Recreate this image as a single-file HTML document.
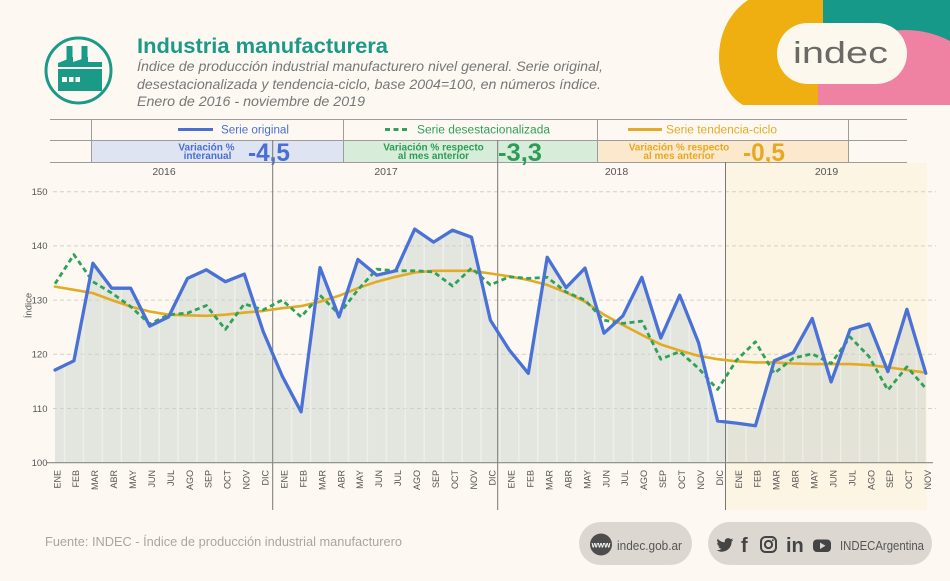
<!DOCTYPE html>
<html><head><meta charset="utf-8">
<style>
html,body{margin:0;padding:0;background:#fdf9f2;width:950px;height:581px;overflow:hidden}
svg{display:block}
text{font-family:"Liberation Sans",Arial,sans-serif}
</style></head>
<body>
<svg width="950" height="581" viewBox="0 0 950 581" xmlns="http://www.w3.org/2000/svg">
<defs>
<clipPath id="pc"><rect x="818" y="0" width="132" height="105"/></clipPath>
<pattern id="stripes" patternUnits="userSpaceOnUse" x="63.8" y="0" width="18.93" height="600">
<rect x="0" y="0" width="18.93" height="600" fill="#c9d1cc" fill-opacity="0.5"/>
<rect x="0" y="0" width="1.4" height="600" fill="#ffffff" fill-opacity="0.4"/>
</pattern>
</defs>
<rect x="0" y="0" width="950" height="581" fill="#fdf9f2"/>

<!-- Logo -->
<rect x="822" y="0" width="128" height="105" fill="#17998a"/>
<path d="M748,0 H823 V105 H743 C730,98 719,80 719,57 C719,33 730,12 748,0 Z" fill="#f0af10"/>
<circle cx="905" cy="128" r="98" fill="#ef81a2" clip-path="url(#pc)"/>
<rect x="777" y="23" width="130" height="61" rx="30.5" fill="#fdf8ee"/>
<text x="793" y="63" font-size="31" fill="#6b6966" textLength="95" lengthAdjust="spacingAndGlyphs">indec</text>

<!-- Icon -->
<circle cx="78.5" cy="70.5" r="32.5" fill="none" stroke="#1a9a87" stroke-width="3"/>
<g fill="#1a9a87">
<rect x="66.5" y="46" width="6" height="14"/>
<rect x="81.5" y="46" width="6" height="14"/>
<polygon points="58,67 58,63 73,57 73,62 88,57 88,62 102,62 102,67"/>
<rect x="58" y="69" width="44" height="22"/>
</g>
<g fill="#fdf9f2">
<rect x="62" y="77" width="5" height="5"/>
<rect x="69" y="77" width="4.5" height="5"/>
<rect x="75.5" y="77" width="4.5" height="5"/>
</g>

<!-- Title -->
<text x="137" y="53" font-size="21" font-weight="bold" fill="#1a9a87" textLength="251" lengthAdjust="spacingAndGlyphs">Industria manufacturera</text>
<g font-size="14" font-style="italic" fill="#777">
<text x="137" y="71" textLength="466" lengthAdjust="spacingAndGlyphs">Índice de producción industrial manufacturero nivel general. Serie original,</text>
<text x="137" y="89" textLength="464" lengthAdjust="spacingAndGlyphs">desestacionalizada y tendencia-ciclo, base 2004=100, en números índice.</text>
<text x="137" y="106" textLength="228" lengthAdjust="spacingAndGlyphs">Enero de 2016 - noviembre de 2019</text>
</g>

<!-- Legend table -->
<rect x="91" y="140" width="252" height="22" fill="#dee4f1"/>
<rect x="343" y="140" width="254" height="22" fill="#d8edd9"/>
<rect x="597" y="140" width="251" height="22" fill="#fbe8cd"/>
<g stroke="#9c9c9c" stroke-width="1">
<line x1="50" y1="119.5" x2="907" y2="119.5"/>
<line x1="50" y1="140.5" x2="907" y2="140.5"/>
<line x1="50" y1="162.5" x2="907" y2="162.5"/>
<line x1="91.5" y1="119" x2="91.5" y2="162"/>
<line x1="343.5" y1="119" x2="343.5" y2="162"/>
<line x1="597.5" y1="119" x2="597.5" y2="162"/>
<line x1="848.5" y1="119" x2="848.5" y2="162"/>
</g>
<line x1="178" y1="129.5" x2="213" y2="129.5" stroke="#4a6fd4" stroke-width="3"/>
<text x="221" y="133.5" font-size="11.5" fill="#4a6fd4" textLength="68" lengthAdjust="spacingAndGlyphs">Serie original</text>
<line x1="385" y1="129.5" x2="410" y2="129.5" stroke="#2fa15b" stroke-width="3" stroke-dasharray="5,3.5"/>
<text x="417" y="133.5" font-size="11.5" fill="#2fa15b" textLength="133" lengthAdjust="spacingAndGlyphs">Serie desestacionalizada</text>
<line x1="628" y1="129.5" x2="662" y2="129.5" stroke="#e2ab26" stroke-width="3"/>
<text x="666" y="133.5" font-size="11.5" fill="#e2ab26" textLength="111" lengthAdjust="spacingAndGlyphs">Serie tendencia-ciclo</text>

<g font-size="10" font-weight="bold" text-anchor="middle">
<text x="206.5" y="150.5" fill="#4a6fd4">Variación %</text>
<text x="207.5" y="159" fill="#4a6fd4">interanual</text>
<text x="433.5" y="150.5" fill="#2c9c58">Variación % respecto</text>
<text x="433.5" y="159" fill="#2c9c58">al mes anterior</text>
<text x="679" y="150.5" fill="#e6aa22">Variación % respecto</text>
<text x="679" y="159" fill="#e6aa22">al mes anterior</text>
</g>
<g font-size="25" font-weight="bold">
<text x="248" y="161" fill="#4a6fd4" textLength="42" lengthAdjust="spacingAndGlyphs">-4,5</text>
<text x="498" y="161" fill="#2c9c58" textLength="44" lengthAdjust="spacingAndGlyphs">-3,3</text>
<text x="743" y="161" fill="#e6aa22" textLength="42" lengthAdjust="spacingAndGlyphs">-0,5</text>
</g>

<!-- 2019 shading -->
<rect x="726" y="163" width="201" height="347" fill="#fcf5e4"/>

<!-- Year labels -->
<g font-size="10.5" fill="#555" text-anchor="middle">
<text x="164" y="175">2016</text>
<text x="386" y="175">2017</text>
<text x="616.5" y="175">2018</text>
<text x="826.5" y="175">2019</text>
</g>

<!-- Gridlines -->
<g stroke="#d4d0c6" stroke-width="1" stroke-dasharray="4,3">
<line x1="53" y1="191.7" x2="936" y2="191.7"/>
<line x1="53" y1="245.9" x2="936" y2="245.9"/>
<line x1="53" y1="300.1" x2="936" y2="300.1"/>
<line x1="53" y1="354.3" x2="936" y2="354.3"/>
<line x1="53" y1="408.5" x2="936" y2="408.5"/>
</g>

<!-- Area -->
<polygon fill="url(#stripes)" points="55.0,370.0 73.9,360.8 92.9,263.2 111.8,288.2 130.7,288.2 149.7,326.1 168.6,316.9 187.5,278.4 206.4,269.8 225.4,281.7 244.3,274.1 263.2,331.5 282.2,376.0 301.1,411.8 320.0,267.6 339.0,316.9 357.9,259.5 376.8,275.2 395.7,270.8 414.7,229.1 433.6,242.1 452.5,230.2 471.5,237.2 490.4,320.2 509.3,350.0 528.3,373.3 547.2,257.3 566.1,287.6 585.0,268.1 604.0,333.2 622.9,315.8 641.8,277.3 660.8,338.0 679.7,295.2 698.6,342.9 717.6,421.0 736.5,423.1 755.4,425.8 774.3,360.8 793.3,352.7 812.2,318.5 831.1,381.9 850.1,329.4 869.0,324.0 887.9,371.6 906.9,309.3 925.8,373.3 925.8,462.7 55.0,462.7"/>

<!-- Year dividers -->
<g stroke="#777" stroke-width="1">
<line x1="272.7" y1="140" x2="272.7" y2="510"/>
<line x1="497.7" y1="140" x2="497.7" y2="510"/>
<line x1="725.5" y1="162" x2="725.5" y2="510"/>
</g>

<!-- Axis -->
<line x1="47" y1="462.7" x2="933" y2="462.7" stroke="#888" stroke-width="1.2"/>
<g font-size="9.5" fill="#555" text-anchor="end">
<text x="47.5" y="195">150</text>
<text x="47.5" y="249.2">140</text>
<text x="47.5" y="303.4">130</text>
<text x="47.5" y="357.6">120</text>
<text x="47.5" y="411.8">110</text>
<text x="47.5" y="466">100</text>
</g>
<text transform="translate(31.5,305.5) rotate(-90)" font-size="9.5" fill="#555" text-anchor="middle">Índice</text>

<!-- Series -->
<polyline fill="none" stroke="#e2ab26" stroke-width="2.6" stroke-linejoin="round" stroke-linecap="round" points="55.0,286.6 73.9,289.8 92.9,293.1 111.8,300.1 130.7,306.6 149.7,311.5 168.6,314.7 187.5,315.3 206.4,315.8 225.4,314.7 244.3,312.6 263.2,310.9 282.2,308.2 301.1,306.1 320.0,301.7 339.0,295.8 357.9,288.2 376.8,281.7 395.7,276.8 414.7,272.5 433.6,270.8 452.5,270.8 471.5,270.8 490.4,273.5 509.3,276.3 528.3,280.0 547.2,284.9 566.1,292.5 585.0,301.7 604.0,314.7 622.9,325.0 641.8,334.8 660.8,344.5 679.7,350.5 698.6,355.9 717.6,359.2 736.5,361.3 755.4,362.4 774.3,362.4 793.3,363.5 812.2,364.1 831.1,364.1 850.1,364.1 869.0,365.1 887.9,367.3 906.9,370.0 925.8,372.7"/>
<polyline fill="none" stroke="#2fa15b" stroke-width="2.8" stroke-dasharray="5,3.5" stroke-linejoin="round" points="55.0,283.8 73.9,254.6 92.9,281.7 111.8,293.1 130.7,306.6 149.7,324.0 168.6,314.7 187.5,313.1 206.4,305.5 225.4,329.4 244.3,303.9 263.2,309.9 282.2,300.1 301.1,316.9 320.0,295.2 339.0,314.2 357.9,289.8 376.8,269.2 395.7,270.8 414.7,270.8 433.6,271.9 452.5,286.0 471.5,268.1 490.4,284.9 509.3,276.8 528.3,278.4 547.2,277.3 566.1,292.0 585.0,300.1 604.0,320.2 622.9,323.4 641.8,321.2 660.8,359.2 679.7,351.6 698.6,368.4 717.6,389.5 736.5,360.3 755.4,341.8 774.3,373.3 793.3,358.1 812.2,353.8 831.1,363.5 850.1,337.0 869.0,356.5 887.9,390.1 906.9,366.8 925.8,388.4"/>
<polyline fill="none" stroke="#4a72d6" stroke-width="3.3" stroke-linejoin="round" stroke-linecap="round" points="55.0,370.0 73.9,360.8 92.9,263.2 111.8,288.2 130.7,288.2 149.7,326.1 168.6,316.9 187.5,278.4 206.4,269.8 225.4,281.7 244.3,274.1 263.2,331.5 282.2,376.0 301.1,411.8 320.0,267.6 339.0,316.9 357.9,259.5 376.8,275.2 395.7,270.8 414.7,229.1 433.6,242.1 452.5,230.2 471.5,237.2 490.4,320.2 509.3,350.0 528.3,373.3 547.2,257.3 566.1,287.6 585.0,268.1 604.0,333.2 622.9,315.8 641.8,277.3 660.8,338.0 679.7,295.2 698.6,342.9 717.6,421.0 736.5,423.1 755.4,425.8 774.3,360.8 793.3,352.7 812.2,318.5 831.1,381.9 850.1,329.4 869.0,324.0 887.9,371.6 906.9,309.3 925.8,373.3"/>

<!-- Month labels -->
<g font-size="9" fill="#555" text-anchor="end">
<text transform="translate(60.3,470) rotate(-90)">ENE</text>
<text transform="translate(79.2,470) rotate(-90)">FEB</text>
<text transform="translate(98.2,470) rotate(-90)">MAR</text>
<text transform="translate(117.1,470) rotate(-90)">ABR</text>
<text transform="translate(136.0,470) rotate(-90)">MAY</text>
<text transform="translate(155.0,470) rotate(-90)">JUN</text>
<text transform="translate(173.9,470) rotate(-90)">JUL</text>
<text transform="translate(192.8,470) rotate(-90)">AGO</text>
<text transform="translate(211.7,470) rotate(-90)">SEP</text>
<text transform="translate(230.7,470) rotate(-90)">OCT</text>
<text transform="translate(249.6,470) rotate(-90)">NOV</text>
<text transform="translate(268.5,470) rotate(-90)">DIC</text>
<text transform="translate(287.5,470) rotate(-90)">ENE</text>
<text transform="translate(306.4,470) rotate(-90)">FEB</text>
<text transform="translate(325.3,470) rotate(-90)">MAR</text>
<text transform="translate(344.3,470) rotate(-90)">ABR</text>
<text transform="translate(363.2,470) rotate(-90)">MAY</text>
<text transform="translate(382.1,470) rotate(-90)">JUN</text>
<text transform="translate(401.0,470) rotate(-90)">JUL</text>
<text transform="translate(420.0,470) rotate(-90)">AGO</text>
<text transform="translate(438.9,470) rotate(-90)">SEP</text>
<text transform="translate(457.8,470) rotate(-90)">OCT</text>
<text transform="translate(476.8,470) rotate(-90)">NOV</text>
<text transform="translate(495.7,470) rotate(-90)">DIC</text>
<text transform="translate(514.6,470) rotate(-90)">ENE</text>
<text transform="translate(533.6,470) rotate(-90)">FEB</text>
<text transform="translate(552.5,470) rotate(-90)">MAR</text>
<text transform="translate(571.4,470) rotate(-90)">ABR</text>
<text transform="translate(590.3,470) rotate(-90)">MAY</text>
<text transform="translate(609.3,470) rotate(-90)">JUN</text>
<text transform="translate(628.2,470) rotate(-90)">JUL</text>
<text transform="translate(647.1,470) rotate(-90)">AGO</text>
<text transform="translate(666.1,470) rotate(-90)">SEP</text>
<text transform="translate(685.0,470) rotate(-90)">OCT</text>
<text transform="translate(703.9,470) rotate(-90)">NOV</text>
<text transform="translate(722.9,470) rotate(-90)">DIC</text>
<text transform="translate(741.8,470) rotate(-90)">ENE</text>
<text transform="translate(760.7,470) rotate(-90)">FEB</text>
<text transform="translate(779.6,470) rotate(-90)">MAR</text>
<text transform="translate(798.6,470) rotate(-90)">ABR</text>
<text transform="translate(817.5,470) rotate(-90)">MAY</text>
<text transform="translate(836.4,470) rotate(-90)">JUN</text>
<text transform="translate(855.4,470) rotate(-90)">JUL</text>
<text transform="translate(874.3,470) rotate(-90)">AGO</text>
<text transform="translate(893.2,470) rotate(-90)">SEP</text>
<text transform="translate(912.2,470) rotate(-90)">OCT</text>
<text transform="translate(931.1,470) rotate(-90)">NOV</text>
</g>

<!-- Footer -->
<text x="45" y="546" font-size="12.5" fill="#a9a6a2" textLength="357" lengthAdjust="spacingAndGlyphs">Fuente: INDEC - Índice de producción industrial manufacturero</text>

<rect x="579" y="522" width="113" height="43" rx="21.5" fill="#ddd7d1"/>
<circle cx="601" cy="544.5" r="11" fill="#4d4d4d"/>
<text x="601" y="547.5" font-size="8" font-weight="bold" fill="#fff" text-anchor="middle">www</text>
<text x="617" y="550" font-size="13" fill="#555" textLength="65" lengthAdjust="spacingAndGlyphs">indec.gob.ar</text>

<rect x="708" y="522" width="224" height="43" rx="21.5" fill="#ddd7d1"/>
<path transform="translate(716.5,536.5) scale(0.7)" fill="#444" d="M23.954 4.569c-.885.389-1.830.654-2.825.775 1.014-.611 1.794-1.574 2.163-2.723-.951.555-2.005.959-3.127 1.184-.896-.959-2.173-1.559-3.591-1.559-2.717 0-4.920 2.203-4.920 4.917 0 .39.045.765.127 1.124C7.691 8.094 4.066 6.130 1.640 3.161c-.427.722-.666 1.561-.666 2.475 0 1.710.870 3.213 2.188 4.096-.807-.026-1.566-.248-2.228-.616v.061c0 2.385 1.693 4.374 3.946 4.827-.413.111-.849.171-1.296.171-.314 0-.615-.030-.916-.086.631 1.953 2.445 3.377 4.604 3.417-1.680 1.319-3.809 2.105-6.102 2.105-.390 0-.779-.023-1.170-.067 2.189 1.394 4.768 2.209 7.557 2.209 9.054 0 13.999-7.496 13.999-13.986 0-.209 0-.420-.015-.630.961-.689 1.800-1.560 2.460-2.548l-.047-.020z"/>
<text x="741" y="552" font-size="20" font-weight="bold" fill="#444">f</text>
<rect x="761" y="537" width="15" height="15" rx="4.5" fill="none" stroke="#444" stroke-width="2"/>
<circle cx="768.5" cy="544.5" r="3.6" fill="none" stroke="#444" stroke-width="2"/>
<circle cx="772.8" cy="540.2" r="1" fill="#444"/>
<text x="786" y="552" font-size="20" font-weight="bold" fill="#444">in</text>
<rect x="813" y="539.5" width="18" height="12.5" rx="4" fill="#444"/>
<polygon points="820,542.5 820,549 825.5,545.75" fill="#ddd7d1"/>
<text x="840" y="550" font-size="12.5" fill="#555" textLength="84" lengthAdjust="spacingAndGlyphs">INDECArgentina</text>
</svg>
</body></html>
